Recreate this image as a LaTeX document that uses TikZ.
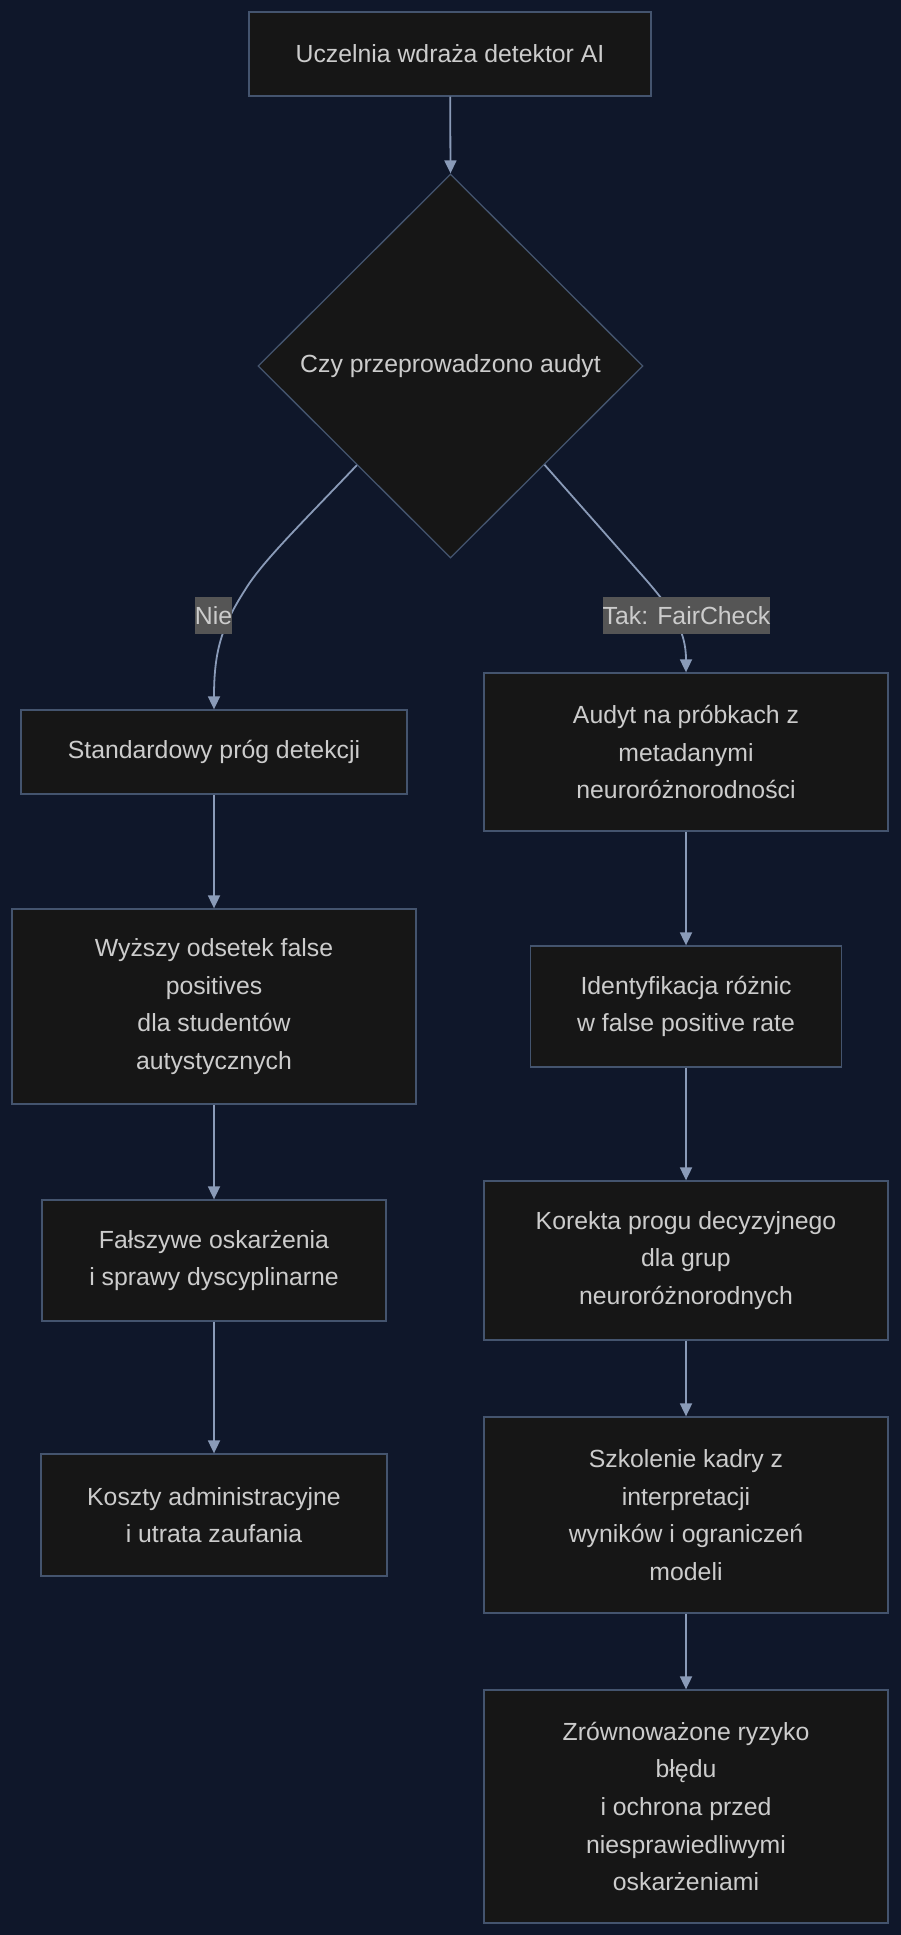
\documentclass[tikz,border=0pt]{standalone}
\usepackage{fontspec}
\setmainfont{Liberation Sans}
\usetikzlibrary{arrows.meta,shapes.geometric,calc}
\definecolor{bg}{HTML}{0F172A}
\definecolor{nodefill}{HTML}{161616}
\definecolor{nodeborder}{HTML}{44546E}
\definecolor{edgecol}{HTML}{8A9BB8}
\definecolor{txt}{HTML}{CCCCCC}
\definecolor{lblbg}{HTML}{555555}
\tikzset{
  box/.style={draw=nodeborder, line width=1.3pt, fill=nodefill, text=txt, align=center,
    inner sep=0pt, font=\fontsize{24.8}{37.7}\selectfont},
  decision/.style={box, shape=diamond, aspect=1},
  lbl/.style={fill=lblbg, text=txt, inner xsep=0pt, inner ysep=0pt, minimum height=37pt,
    font=\fontsize{24.8}{37.7}\selectfont},
  edge/.style={draw=edgecol, line width=1.8pt, -{Triangle[length=13pt,width=12pt]}}
}
\begin{document}
\begin{tikzpicture}[x=1pt,y=-1pt]
\useasboundingbox (0,0) rectangle (900,1935);
\path[fill=bg] (-2,-2) rectangle (902,1937);

\node[box, minimum width=402pt, minimum height=84pt] (A) at (450,54) {Uczelnia wdraża detektor AI};
\node[decision, minimum width=385pt, minimum height=384pt] (D) at (450.5,366) {Czy przeprowadzono audyt};

\node[box, minimum width=386pt, minimum height=84pt] (B1) at (214,752) {Standardowy próg detekcji};
\node[box, minimum width=404pt, minimum height=195pt] (B2) at (214,1006.5) {Wyższy odsetek false\\positives\\dla studentów\\autystycznych};
\node[box, minimum width=344pt, minimum height=121pt] (B3) at (214,1260.5) {Fałszywe oskarżenia\\i sprawy dyscyplinarne};
\node[box, minimum width=346pt, minimum height=122pt] (B4) at (214,1515) {Koszty administracyjne\\i utrata zaufania};

\node[box, minimum width=404pt, minimum height=158pt] (C1) at (686,752) {Audyt na próbkach z\\metadanymi\\neuroróżnorodności};
\node[box, minimum width=311pt, minimum height=121pt] (C2) at (686,1006.5) {Identyfikacja różnic\\w false positive rate};
\node[box, minimum width=404pt, minimum height=159pt] (C3) at (686,1260.5) {Korekta progu decyzyjnego\\dla grup\\neuroróżnorodnych};
\node[box, minimum width=404pt, minimum height=196pt] (C4) at (686,1515) {Szkolenie kadry z\\interpretacji\\wyników i ograniczeń\\modeli};
\node[box, minimum width=404pt, minimum height=233pt] (C5) at (686,1806.5) {Zrównoważone ryzyko\\błędu\\i ochrona przed\\niesprawiedliwymi\\oskarżeniami};

\draw[edge] (A) -- (D.north);
\coordinate (DL) at ($(D.west)!0.515!(D.south)$);
\coordinate (DR) at ($(D.east)!0.513!(D.south)$);
\draw[edge] (DL) .. controls (300,525) and (262,562) .. (245,590) .. controls (222,626) and (214,650) .. (B1.north);
\draw[edge] (DR) -- (640,573) .. controls (672,609) and (686,630) .. (C1.north);
\node[lbl] (LN) at (213.5,615.5) {Nie};
\node[lbl] (LT) at (686.5,615.5) {Tak: FairCheck};

\draw[edge] (B1) -- (B2);
\draw[edge] (B2) -- (B3);
\draw[edge] (B3) -- (B4);
\draw[edge] (C1) -- (C2);
\draw[edge] (C2) -- (C3);
\draw[edge] (C3) -- (C4);
\draw[edge] (C4) -- (C5);
\end{tikzpicture}
\end{document}
